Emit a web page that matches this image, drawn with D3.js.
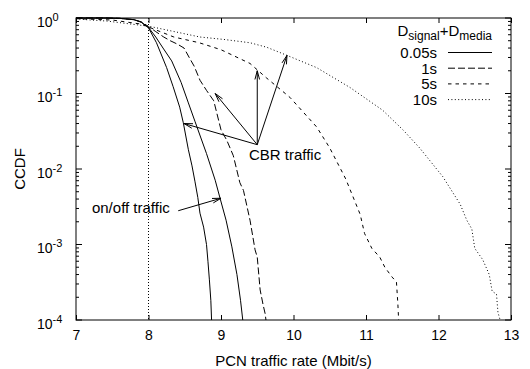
<!DOCTYPE html>
<html>
<head>
<meta charset="utf-8">
<script src="https://cdn.jsdelivr.net/npm/d3@7"></script>
<style>
  body { margin: 0; background: #fff; }
  text { font-family: "Liberation Sans", Arial, sans-serif; fill: #000; }
</style>
</head>
<body>
<div id="chart"></div>
<script>
// CCDF curves: [rate Mbit/s, ccdf]
const cbr005 = [
  [7.0, 1], [7.4, 1], [7.6, 0.99], [7.8, 0.95], [7.9, 0.88], [8.0, 0.74],
  [8.11, 0.47], [8.25, 0.22], [8.34, 0.123], [8.43, 0.066], [8.48, 0.041],
  [8.55, 0.018], [8.6, 0.011], [8.64, 0.0069], [8.68, 0.0042], [8.71, 0.0026],
  [8.76, 0.0017], [8.8, 0.001], [8.82, 0.0006], [8.84, 0.00034], [8.86, 0.00018], [8.87, 0.0001]
];
const onoff005 = [
  [7.0, 1], [7.4, 1], [7.6, 0.99], [7.8, 0.95], [7.9, 0.88], [8.0, 0.75],
  [8.1, 0.56], [8.2, 0.4], [8.32, 0.27], [8.45, 0.14], [8.55, 0.075],
  [8.64, 0.043], [8.8, 0.016], [8.92, 0.0071], [8.99, 0.004], [9.07, 0.0021],
  [9.15, 0.00093], [9.22, 0.0004], [9.27, 0.00018], [9.3, 0.0001]
];
const cbr1 = [
  [7.0, 1], [7.4, 1], [7.6, 0.99], [7.8, 0.95], [7.9, 0.89], [8.0, 0.77],
  [8.1, 0.66], [8.21, 0.56], [8.3, 0.5], [8.4, 0.45], [8.49, 0.4],
  [8.57, 0.29], [8.63, 0.23], [8.71, 0.15], [8.8, 0.11], [8.9, 0.08],
  [9.0, 0.033], [9.08, 0.024], [9.17, 0.015], [9.26, 0.0066], [9.31, 0.0052],
  [9.4, 0.0021], [9.47, 0.00085], [9.5, 0.00068], [9.54, 0.00025],
  [9.58, 0.00016], [9.61, 0.00012], [9.62, 0.0001]
];
const cbr5 = [
  [7.0, 0.98], [7.5, 0.94], [7.9, 0.83], [8.0, 0.76], [8.35, 0.56],
  [8.7, 0.47], [9.0, 0.38], [9.4, 0.25], [9.63, 0.16], [9.95, 0.089],
  [10.32, 0.036], [10.5, 0.019], [10.72, 0.0074], [10.92, 0.0025],
  [10.98, 0.0014], [11.08, 0.00089], [11.19, 0.00068], [11.26, 0.0005],
  [11.36, 0.00037], [11.42, 0.00032], [11.44, 0.00016], [11.45, 0.0001]
];
const cbr10 = [
  [7.0, 0.97], [7.43, 0.91], [7.9, 0.8], [8.0, 0.78], [8.71, 0.56],
  [9.04, 0.52], [9.4, 0.47], [9.63, 0.41], [9.91, 0.32], [10.32, 0.22],
  [10.78, 0.12], [11.23, 0.06], [11.51, 0.033], [11.74, 0.019],
  [12.06, 0.0079], [12.3, 0.0034], [12.39, 0.0021], [12.46, 0.0016],
  [12.5, 0.00089], [12.61, 0.00063], [12.7, 0.0004], [12.74, 0.00024],
  [12.8, 0.00022], [12.82, 0.000126], [12.85, 0.0001]
];

const series = [
  { name: "0.05s", data: cbr005, dash: null },
  { name: null, data: onoff005, dash: null },
  { name: "1s", data: cbr1, dash: "7,3" },
  { name: "5s", data: cbr5, dash: "3.5,4" },
  { name: "10s", data: cbr10, dash: "1,2.4" }
];
const legendNames = ["0.05s", "1s", "5s", "10s"];
const legendDash = [null, "7,3", "3.5,4", "1,2.4"];

const xTicks = [7, 8, 9, 10, 11, 12, 13];
const yDecades = [1e-4, 1e-3, 1e-2, 1e-1, 1];
const yExps = ["-4", "-3", "-2", "-1", "0"];

// annotation arrows in data coords: [fromX, fromY, toX, toY]
const cbrArrows = [
  [9.5, 0.021, 8.49, 0.04],
  [9.5, 0.021, 8.92, 0.1],
  [9.5, 0.021, 9.5, 0.2],
  [9.5, 0.021, 9.91, 0.32]
];
const onoffArrow = [8.41, 0.0028, 9.0, 0.0041];

const W = 530, H = 369;
const margin = { top: 18, right: 19, bottom: 49, left: 76 },
  width = W - margin.left - margin.right,
  height = H - margin.top - margin.bottom;

const svg = d3.select("#chart").append("svg")
  .attr("width", W).attr("height", H)
  .append("g")
  .attr("transform", "translate(" + margin.left + "," + margin.top + ")");

const x = d3.scaleLinear().domain([7, 13]).range([0, width]);
const y = d3.scaleLog().domain([1e-4, 1]).range([height, 0]);

// x axis bottom + mirrored top, ticks inward
const xAxis = svg.append("g")
  .attr("transform", "translate(0," + height + ")")
  .call(d3.axisBottom(x).tickValues(xTicks).tickFormat(d3.format("d"))
    .tickSizeInner(-5).tickSizeOuter(0).tickPadding(10));
xAxis.select(".domain").remove();
xAxis.selectAll("text").style("font-size", "14px").style("font-family", null);

const xTop = svg.append("g")
  .call(d3.axisTop(x).tickValues(xTicks).tickFormat("").tickSizeInner(-5).tickSizeOuter(0));
xTop.select(".domain").remove();

// y minor + major ticks, both sides
const yMinor = [];
yDecades.slice(0, 4).forEach(function (d) {
  for (let k = 2; k <= 9; k++) yMinor.push(d * k);
});
[[0, 1], [width, -1]].forEach(function (side) {
  const g = svg.append("g");
  g.selectAll(".maj").data(yDecades).enter().append("line")
    .attr("x1", side[0]).attr("x2", side[0] + side[1] * 6)
    .attr("y1", d => y(d)).attr("y2", d => y(d))
    .attr("stroke", "#000");
  g.selectAll(".min").data(yMinor).enter().append("line")
    .attr("x1", side[0]).attr("x2", side[0] + side[1] * 3)
    .attr("y1", d => y(d)).attr("y2", d => y(d))
    .attr("stroke", "#000");
});

// y labels 10^n
const yl = svg.append("g").selectAll("text").data(yDecades).enter().append("text")
  .attr("x", -39).attr("y", d => y(d) + 8.5)
  .style("font-size", "14px");
yl.append("tspan").text("10");
yl.append("tspan").attr("dy", -6).style("font-size", "11px")
  .text((d, i) => yExps[i]);

// vertical dotted line at 8
svg.append("line")
  .attr("x1", x(8)).attr("x2", x(8)).attr("y1", 0).attr("y2", height)
  .attr("stroke", "#000").attr("stroke-dasharray", "1,2");

// curves
const line = d3.line().x(d => x(d[0])).y(d => y(d[1]));
svg.append("g").selectAll("path").data(series).enter().append("path")
  .attr("d", d => line(d.data))
  .attr("fill", "none").attr("stroke", "#000").attr("stroke-width", 1)
  .attr("stroke-dasharray", d => d.dash);

// frame
svg.append("rect").attr("width", width).attr("height", height)
  .attr("fill", "none").attr("stroke", "#000").attr("stroke-width", 1);

// arrows
function arrow(a) {
  const x1 = x(a[0]), y1 = y(a[1]), x2 = x(a[2]), y2 = y(a[3]);
  const ang = Math.atan2(y2 - y1, x2 - x1), L = 9, s = 0.26;
  const h1 = [x2 - L * Math.cos(ang - s), y2 - L * Math.sin(ang - s)];
  const h2 = [x2 - L * Math.cos(ang + s), y2 - L * Math.sin(ang + s)];
  svg.append("path")
    .attr("d", "M" + x1 + "," + y1 + "L" + x2 + "," + y2 +
      "M" + h1 + "L" + x2 + "," + y2 + "L" + h2)
    .attr("fill", "none").attr("stroke", "#000").attr("stroke-width", 1);
}
cbrArrows.forEach(arrow);
arrow(onoffArrow);

svg.append("text").attr("x", x(9.385)).attr("y", y(0.0132))
  .style("font-size", "15px").text("CBR traffic");
svg.append("text").attr("x", x(7.22)).attr("y", y(0.00258))
  .style("font-size", "15px").text("on/off traffic");

// legend
const lg = svg.append("g");
const title = lg.append("text").attr("x", 416).attr("y", 18)
  .attr("text-anchor", "end").style("font-size", "15px");
title.append("tspan").text("D");
title.append("tspan").attr("dy", 4).style("font-size", "12px").text("signal");
title.append("tspan").attr("dy", -4).text("+D");
title.append("tspan").attr("dy", 4).style("font-size", "12px").text("media");

legendNames.forEach(function (n, i) {
  const ly = 34.5 + i * 15.7;
  lg.append("text").attr("x", 361).attr("y", ly + 5.5)
    .attr("text-anchor", "end").style("font-size", "15px").text(n);
  lg.append("line").attr("x1", 372).attr("x2", 416).attr("y1", ly).attr("y2", ly)
    .attr("stroke", "#000").attr("stroke-dasharray", legendDash[i]);
});

// axis titles
svg.append("text").attr("x", width / 2).attr("y", height + 46)
  .attr("text-anchor", "middle").style("font-size", "15px")
  .text("PCN traffic rate (Mbit/s)");
svg.append("text")
  .attr("transform", "translate(-51," + height / 2 + ") rotate(-90)")
  .attr("text-anchor", "middle").style("font-size", "15px")
  .text("CCDF");
</script>
</body>
</html>
